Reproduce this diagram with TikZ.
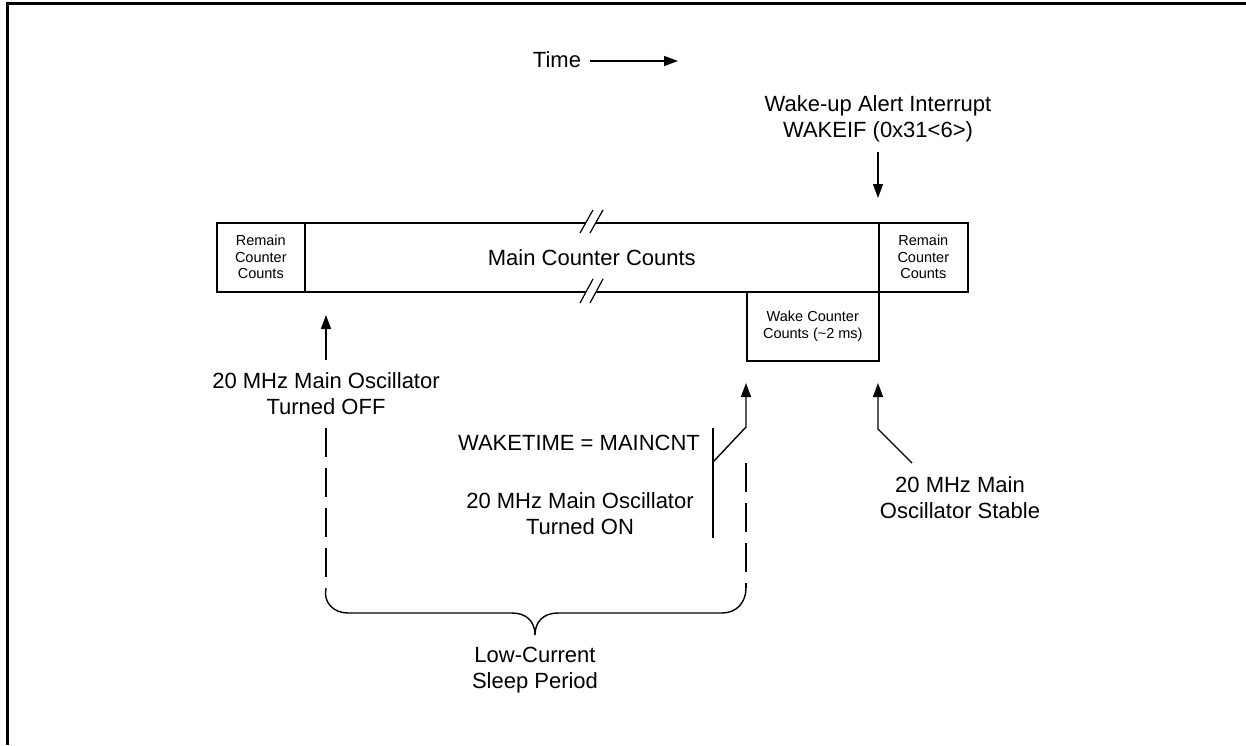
\documentclass[tikz,border=0pt]{standalone}
\usepackage{fontspec}
\setmainfont{Liberation Sans}
\usetikzlibrary{arrows.meta}
\begin{document}
\begin{tikzpicture}[x=1pt,y=-1pt,
  lbl/.style={font=\fontsize{22}{26}\selectfont, align=center, inner sep=0pt},
  sml/.style={font=\fontsize{14.5}{16.5}\selectfont, align=center, inner sep=0pt},
  cell/.style={draw, line width=1.6pt, anchor=north west, minimum height=69pt, inner sep=0pt},
  arr/.style={line width=1.4pt, -{Triangle[length=14pt,width=10pt]}},
  ln/.style={line width=1.4pt},
  dsh/.style={line width=1.4pt, dash pattern=on 29pt off 11pt},
  brk/.style={line width=1.2pt}]
\useasboundingbox (0,0) rectangle (1246,745);
\draw[line width=3pt] (7,745) -- (7,3) -- (1246,3);

% title
\node[lbl] (time) at (557,60) {Time};
\coordinate (ts) at (590,61);
\coordinate (te) at (678,61);
\draw[arr] (ts) -- (te);

% counter bar
\node[cell, minimum width=88pt] (remL) at (216,222) {};
\node[sml] at (remL.center) {Remain\\Counter\\Counts};
\node[cell, minimum width=574pt] (main) at (304,222) {};
\node[lbl] at (main.center) {Main Counter Counts};
\node[cell, minimum width=89pt] (remR) at (878,222) {};
\node[sml] at (remR.center) {Remain\\Counter\\Counts};
\node[cell, minimum width=132pt] (wake) at (746,291) {};
\node[sml] at (wake.center) {Wake Counter\\Counts (\char`\~2 ms)};

% break marks
\fill[white] (580,233) -- (593,210) -- (603,210) -- (590,233) -- cycle;
\draw[brk] (580,233) -- (593,210) (590,233) -- (603,210);
\fill[white] (580,303) -- (593,279) -- (603,279) -- (590,303) -- cycle;
\draw[brk] (580,303) -- (593,279) (590,303) -- (603,279);

% wake-up alert
\node[lbl] (alert) at (878,119) {Wake-up Alert Interrupt\\WAKEIF (0x31<6>)};
\coordinate (as) at (878,152);
\coordinate (ae) at (878,198);
\draw[arr] (as) -- (ae);

% oscillator off
\coordinate (os) at (326,360);
\coordinate (oe) at (326,315);
\draw[arr] (os) -- (oe);
\node[lbl] (off) at (326,394) {20 MHz Main Oscillator\\Turned OFF};
\coordinate (d1a) at (326,428);
\coordinate (d1b) at (326,588);
\draw[dsh] (d1a) -- (d1b);

% wake time / oscillator on
\node[lbl] (wt) at (579,443) {WAKETIME = MAINCNT};
\node[lbl] (on) at (580,514) {20 MHz Main Oscillator\\Turned ON};
\coordinate (k1) at (713,428);
\coordinate (k2) at (713,538);
\coordinate (k3) at (713,462);
\coordinate (k4) at (746,427);
\coordinate (k5) at (746,383);
\draw[ln] (k1) -- (k2);
\draw[arr] (k3) -- (k4) -- (k5);
\coordinate (d2a) at (746,463);
\coordinate (d2b) at (746,588);
\draw[dsh] (d2a) -- (d2b);

% stable
\coordinate (s1) at (912,463);
\coordinate (s2) at (878,429);
\coordinate (s3) at (878,383);
\draw[arr] (s1) -- (s2) -- (s3);
\node[lbl] (stable) at (960,498) {20 MHz Main\\Oscillator Stable};

% brace
\draw[ln] (d1b) .. controls (323,602) and (333,613) .. (348,613) -- (512,613)
  .. controls (527,613) and (535,622) .. (535,635)
  .. controls (535,622) and (543,613) .. (558,613) -- (722,613)
  .. controls (737,613) and (746,602) .. (d2b);
\node[lbl] (sleep) at (535,670) {Low-Current\\Sleep Period};
\end{tikzpicture}
\end{document}
